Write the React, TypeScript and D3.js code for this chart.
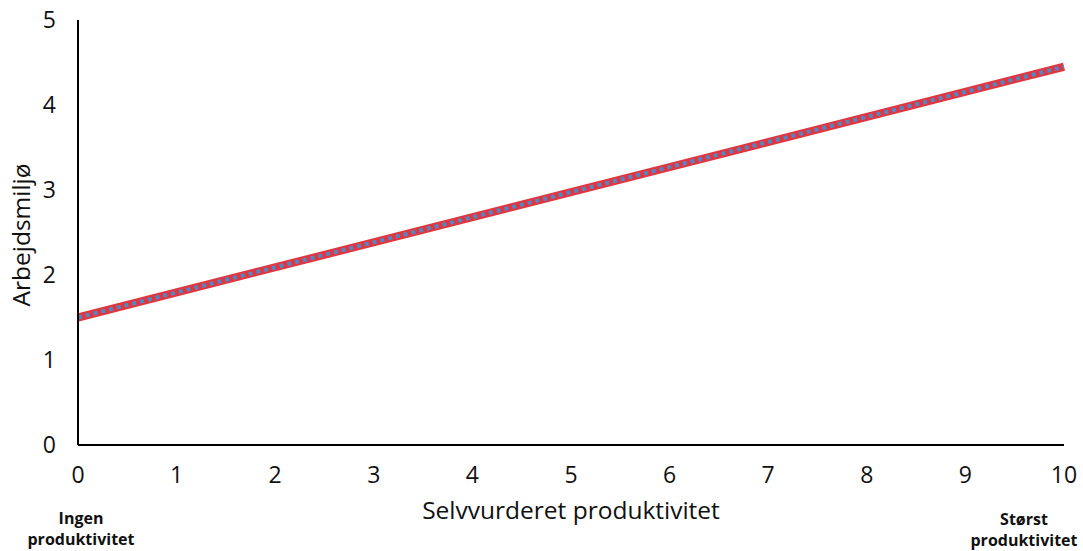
import React, { useEffect, useRef } from "react";
import * as d3 from "d3";

const xValues = [0, 10];
const trendValues = [1.5, 4.45];
const xTicks = [0, 1, 2, 3, 4, 5, 6, 7, 8, 9, 10];
const yTicks = [0, 1, 2, 3, 4, 5];

export default function App() {
    const svgRef = useRef(null);

    useEffect(() => {
        const width = 1083;
        const height = 551;
        const margin = { top: 20, right: 19, bottom: 106, left: 78 };

        const svg = d3.select(svgRef.current);
        svg.selectAll("*").remove();

        const x = d3.scaleLinear().domain([0, 10]).range([margin.left, width - margin.right]);
        const y = d3.scaleLinear().domain([0, 5]).range([height - margin.bottom, margin.top]);

        const font = "'Open Sans', sans-serif";

        // y tick labels
        svg.append("g")
            .selectAll("text")
            .data(yTicks)
            .enter()
            .append("text")
            .attr("x", 56)
            .attr("y", (d) => y(d))
            .attr("dy", "0.36em")
            .attr("text-anchor", "end")
            .style("font-family", font)
            .style("font-size", "23px")
            .attr("fill", "#111")
            .text((d) => d);

        // x tick labels
        svg.append("g")
            .selectAll("text")
            .data(xTicks)
            .enter()
            .append("text")
            .attr("x", (d) => x(d))
            .attr("y", 483)
            .attr("text-anchor", "middle")
            .style("font-family", font)
            .style("font-size", "23px")
            .attr("fill", "#111")
            .text((d) => d);

        const data = xValues.map((v, i) => ({ x: v, y: trendValues[i] }));
        const line = d3.line<{ x: number; y: number }>().x((d) => x(d.x)).y((d) => y(d.y));

        svg.append("path")
            .attr("d", line(data))
            .attr("fill", "none")
            .attr("stroke", "#E0363F")
            .attr("stroke-width", 8);

        svg.append("path")
            .attr("d", line(data))
            .attr("fill", "none")
            .attr("stroke", "#5685C4")
            .attr("stroke-width", 4)
            .attr("stroke-dasharray", "4 4");

        // axes lines
        svg.append("line")
            .attr("x1", x(0)).attr("x2", x(0))
            .attr("y1", y(5)).attr("y2", y(0))
            .attr("stroke", "#000").attr("stroke-width", 2);
        svg.append("line")
            .attr("x1", x(0)).attr("x2", x(10))
            .attr("y1", y(0)).attr("y2", y(0))
            .attr("stroke", "#000").attr("stroke-width", 2);

        svg.append("text")
            .attr("x", 571)
            .attr("y", 519)
            .attr("text-anchor", "middle")
            .style("font-family", font)
            .style("font-size", "24.5px")
            .attr("fill", "#111")
            .text("Selvvurderet produktivitet");

        svg.append("text")
            .attr("transform", `translate(30,235) rotate(-90)`)
            .attr("text-anchor", "middle")
            .style("font-family", font)
            .style("font-size", "24.5px")
            .attr("fill", "#111")
            .text("Arbejdsmiljø");

        const endLabels = [
            { cx: 81, lines: ["Ingen", "produktivitet"], top: 524 },
            { cx: 1024, lines: ["Størst", "produktivitet"], top: 525 },
        ];
        endLabels.forEach((l) => {
            l.lines.forEach((s, i) => {
                svg.append("text")
                    .attr("x", l.cx)
                    .attr("y", l.top + i * 21)
                    .attr("text-anchor", "middle")
                    .style("font-family", font)
                    .style("font-size", "16px")
                    .style("font-weight", "700")
                    .attr("fill", "#111")
                    .text(s);
            });
        });
    }, []);

    return (
        <svg
            ref={svgRef}
            width={1083}
            height={551}
            style={{ position: "absolute", left: 0, top: 0, background: "#fff" }}
        />
    );
}
